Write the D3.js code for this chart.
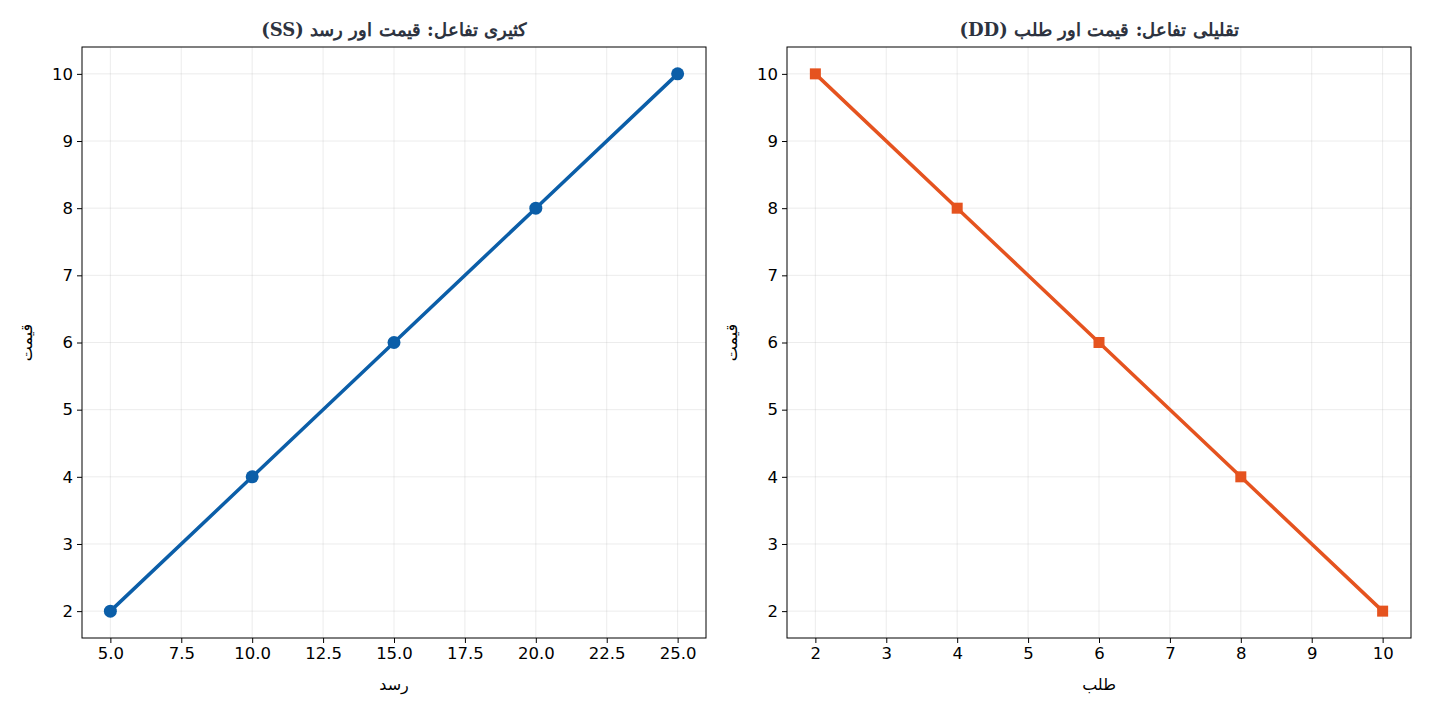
<!DOCTYPE html>
<html>
<head>
<meta charset="utf-8">
<script src="https://cdn.jsdelivr.net/npm/d3@7"></script>
<style>
  body { margin: 0; background: #fff; }
  svg text { font-family: "DejaVu Sans", sans-serif; }
</style>
</head>
<body>
<div id="chart"></div>
<script>
// supply (SS)
const supplyQty = [5, 10, 15, 20, 25];
const supplyPrice = [2, 4, 6, 8, 10];
// demand (DD)
const demandQty = [2, 4, 6, 8, 10];
const demandPrice = [10, 8, 6, 4, 2];

const supplyTicks = [5, 7.5, 10, 12.5, 15, 17.5, 20, 22.5, 25];
const demandTicks = [2, 3, 4, 5, 6, 7, 8, 9, 10];
const priceTicks = [2, 3, 4, 5, 6, 7, 8, 9, 10];

const titles = ["کثیری تفاعل: قیمت اور رسد (SS)", "تقلیلی تفاعل: قیمت اور طلب (DD)"];
const xLabels = ["رسد", "طلب"];
const yLabel = "قیمت";

const width = 1430, height = 715;
const svg = d3.select("#chart").append("svg")
    .attr("width", width)
    .attr("height", height);

const panels = [
    { left: 82, xDomain: [4, 26], ticks: supplyTicks, fmt: d3.format(".1f"),
      xs: supplyQty, ys: supplyPrice, color: "#0b5ea8", marker: "circle",
      title: titles[0], xLabel: xLabels[0] },
    { left: 787, xDomain: [1.6, 10.4], ticks: demandTicks, fmt: d3.format("d"),
      xs: demandQty, ys: demandPrice, color: "#e5531f", marker: "square",
      title: titles[1], xLabel: xLabels[1] }
];

const plotW = 624, plotTop = 47, plotH = 591;

panels.forEach(p => {
    const g = svg.append("g").attr("transform", `translate(${p.left}, ${plotTop})`);

    const x = d3.scaleLinear().domain(p.xDomain).range([0, plotW]);
    const y = d3.scaleLinear().domain([1.6, 10.4]).range([plotH, 0]);

    // grid
    g.append("g").selectAll("line").data(p.ticks).enter().append("line")
        .attr("x1", d => x(d)).attr("x2", d => x(d))
        .attr("y1", 0).attr("y2", plotH)
        .attr("stroke", "#b0b0b0").attr("stroke-opacity", 0.3).attr("stroke-width", 0.8);
    g.append("g").selectAll("line").data(priceTicks).enter().append("line")
        .attr("x1", 0).attr("x2", plotW)
        .attr("y1", d => y(d)).attr("y2", d => y(d))
        .attr("stroke", "#b0b0b0").attr("stroke-opacity", 0.3).attr("stroke-width", 0.8);

    // axes
    const xAxis = g.append("g")
        .attr("transform", `translate(0, ${plotH})`)
        .call(d3.axisBottom(x).tickValues(p.ticks).tickFormat(p.fmt).tickSize(5).tickPadding(4));
    const yAxis = g.append("g")
        .call(d3.axisLeft(y).tickValues(priceTicks).tickFormat(d3.format("d")).tickSize(5).tickPadding(4));
    [xAxis, yAxis].forEach(a => {
        a.select(".domain").remove();
        a.attr("font-size", null).attr("font-family", null);
        a.selectAll("text").attr("fill", "#000")
            .style("font-size", "16.5px")
            .style("font-family", "'DejaVu Sans', sans-serif");
        a.selectAll("line").attr("stroke", "#000").attr("stroke-width", 1);
    });

    g.append("rect")
        .attr("width", plotW).attr("height", plotH)
        .attr("fill", "none").attr("stroke", "#000").attr("stroke-width", 1);

    const pts = p.xs.map((v, i) => [v, p.ys[i]]);
    const line = d3.line().x(d => x(d[0])).y(d => y(d[1]));
    g.append("path").datum(pts)
        .attr("d", line)
        .attr("fill", "none")
        .attr("stroke", p.color)
        .attr("stroke-width", 3.5);

    if (p.marker === "circle") {
        g.selectAll(".pt").data(pts).enter().append("circle")
            .attr("cx", d => x(d[0])).attr("cy", d => y(d[1]))
            .attr("r", 6.5).attr("fill", p.color);
    } else {
        g.selectAll(".pt").data(pts).enter().append("rect")
            .attr("x", d => x(d[0]) - 5.5).attr("y", d => y(d[1]) - 5.5)
            .attr("width", 11).attr("height", 11).attr("fill", p.color);
    }

    // title
    g.append("text")
        .attr("x", plotW / 2).attr("y", -11)
        .attr("text-anchor", "middle")
        .attr("direction", "rtl")
        .attr("font-size", "18px")
        .attr("font-weight", "bold")
        .attr("fill", "#2d3340")
        .style("font-family", "'DejaVu Serif', 'Liberation Serif', serif")
        .text(p.title);

    // x label
    g.append("text")
        .attr("x", plotW / 2).attr("y", plotH + 52)
        .attr("text-anchor", "middle")
        .attr("font-size", "16px")
        .text(p.xLabel);

    // y label
    g.append("text")
        .attr("transform", `translate(-50, ${plotH / 2}) rotate(-90)`)
        .attr("text-anchor", "middle")
        .attr("font-size", "16px")
        .text(yLabel);
});
</script>
</body>
</html>
